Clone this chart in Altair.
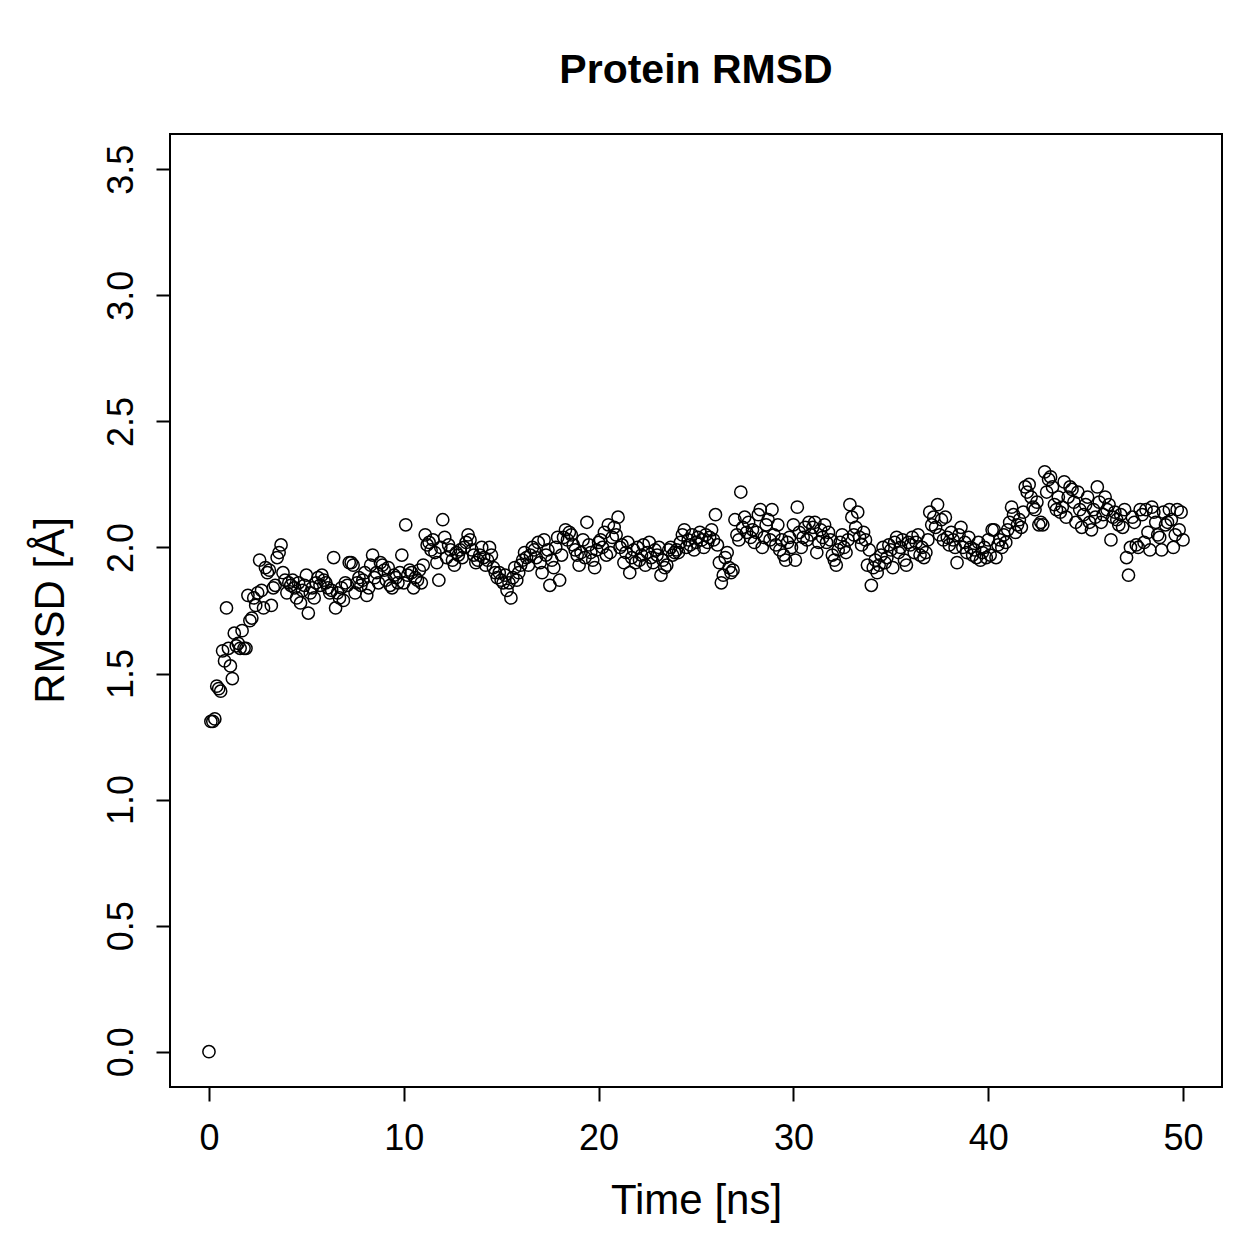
import altair as alt
import pandas as pd

# RMSD of the protein backbone, one frame every 0.1 ns (10 frames per ns block)
rmsd_blocks = [
    [0.00, 1.31, 1.31, 1.32, 1.45, 1.44, 1.43, 1.59, 1.55, 1.76],  # 0 ns
    [1.60, 1.53, 1.48, 1.66, 1.61, 1.62, 1.60, 1.67, 1.60, 1.60],
    [1.81, 1.71, 1.72, 1.80, 1.77, 1.82, 1.95, 1.83, 1.76, 1.92],
    [1.90, 1.91, 1.77, 1.84, 1.85, 1.96, 1.98, 2.01, 1.90, 1.87],
    [1.82, 1.86, 1.85, 1.87, 1.84, 1.80, 1.86, 1.78, 1.83, 1.85],
    [1.89, 1.74, 1.82, 1.84, 1.80, 1.86, 1.88, 1.85, 1.89, 1.87],  # 5 ns
    [1.86, 1.84, 1.82, 1.83, 1.96, 1.76, 1.82, 1.80, 1.84, 1.79],
    [1.86, 1.85, 1.94, 1.94, 1.93, 1.82, 1.86, 1.88, 1.85, 1.87],
    [1.90, 1.81, 1.84, 1.93, 1.97, 1.88, 1.90, 1.86, 1.94, 1.93],
    [1.91, 1.87, 1.92, 1.85, 1.84, 1.89, 1.88, 1.86, 1.90, 1.97],
    [1.86, 2.09, 1.89, 1.91, 1.90, 1.84, 1.88, 1.87, 1.91, 1.86],  # 10 ns
    [1.93, 2.05, 2.01, 2.02, 1.99, 2.03, 1.98, 1.94, 1.87, 2.00],
    [2.11, 2.04, 1.96, 2.01, 1.99, 1.95, 1.93, 1.98, 1.97, 1.99],
    [1.96, 2.00, 2.02, 2.05, 2.03, 1.99, 1.97, 1.94, 1.95, 1.97],
    [2.00, 1.96, 1.93, 1.95, 2.00, 1.97, 1.92, 1.90, 1.88, 1.90],
    [1.87, 1.86, 1.89, 1.83, 1.86, 1.80, 1.88, 1.92, 1.87, 1.90],  # 15 ns
    [1.93, 1.95, 1.98, 1.96, 1.93, 1.97, 2.00, 1.99, 1.96, 2.02],
    [1.94, 1.90, 2.03, 1.97, 1.99, 1.85, 1.95, 1.92, 2.00, 2.04],
    [1.87, 1.97, 2.04, 2.07, 2.03, 2.06, 2.05, 2.01, 1.99, 1.97],
    [1.93, 1.98, 2.03, 1.96, 2.10, 2.01, 1.98, 1.95, 1.92, 1.99],
    [2.02, 2.03, 2.00, 2.06, 1.97, 2.09, 1.98, 2.04, 2.08, 2.05],  # 20 ns
    [2.12, 2.00, 2.01, 1.94, 1.98, 2.02, 1.90, 1.96, 1.99, 1.94],
    [2.00, 1.95, 1.97, 2.01, 1.93, 1.98, 2.02, 1.96, 1.94, 1.99],
    [1.97, 2.00, 1.89, 1.95, 1.92, 1.93, 1.99, 2.00, 1.97, 1.98],
    [1.99, 1.98, 2.02, 2.05, 2.07, 2.00, 2.03, 2.01, 2.05, 1.99],
    [2.02, 2.04, 2.06, 2.03, 2.00, 2.05, 2.02, 2.04, 2.07, 2.03],  # 25 ns
    [2.13, 2.01, 1.94, 1.86, 1.89, 1.96, 1.98, 1.92, 1.90, 1.91],
    [2.11, 2.05, 2.03, 2.22, 2.08, 2.12, 2.06, 2.10, 2.04, 2.07],
    [2.02, 2.06, 2.13, 2.15, 2.00, 2.04, 2.09, 2.11, 2.03, 2.15],
    [2.05, 2.01, 2.09, 1.99, 2.03, 1.97, 1.95, 2.02, 2.04, 2.00],
    [2.09, 1.95, 2.16, 2.06, 2.00, 2.04, 2.08, 2.03, 2.10, 2.05],  # 30 ns
    [2.08, 2.10, 1.98, 2.02, 2.07, 2.04, 2.09, 2.02, 2.06, 2.03],
    [1.97, 1.95, 1.93, 1.99, 2.02, 2.05, 2.00, 1.98, 2.03, 2.17],
    [2.12, 2.05, 2.08, 2.14, 2.04, 2.01, 2.06, 2.03, 1.93, 1.99],
    [1.85, 1.92, 1.95, 1.90, 1.93, 1.97, 2.00, 1.94, 1.96, 2.01],
    [1.99, 1.92, 2.02, 2.04, 1.98, 2.00, 2.03, 1.95, 1.93, 2.02],  # 35 ns
    [2.01, 2.04, 1.98, 2.02, 2.05, 1.97, 2.00, 1.96, 1.98, 2.03],
    [2.14, 2.09, 2.12, 2.08, 2.17, 2.05, 2.11, 2.03, 2.12, 2.04],
    [2.01, 2.06, 2.03, 2.00, 1.94, 2.05, 2.08, 2.00, 2.02, 1.98],
    [2.04, 2.00, 1.97, 1.99, 1.96, 2.02, 1.95, 1.98, 2.00, 1.96],
    [2.03, 1.97, 2.07, 2.07, 1.96, 2.01, 2.03, 2.00, 2.05, 2.02],  # 40 ns
    [2.07, 2.10, 2.16, 2.13, 2.06, 2.09, 2.11, 2.08, 2.14, 2.24],
    [2.22, 2.25, 2.20, 2.16, 2.15, 2.18, 2.09, 2.10, 2.09, 2.30],
    [2.22, 2.27, 2.28, 2.24, 2.17, 2.15, 2.20, 2.14, 2.16, 2.26],
    [2.12, 2.20, 2.24, 2.23, 2.18, 2.10, 2.22, 2.15, 2.08, 2.13],
    [2.17, 2.20, 2.10, 2.07, 2.15, 2.12, 2.24, 2.18, 2.10, 2.13],  # 45 ns
    [2.20, 2.15, 2.17, 2.03, 2.12, 2.14, 2.11, 2.09, 2.13, 2.08],
    [2.15, 1.96, 1.89, 2.00, 2.12, 2.10, 2.01, 2.00, 2.15, 2.13],
    [2.02, 2.15, 2.06, 1.99, 2.16, 2.14, 2.10, 2.05, 2.04, 1.99],
    [2.14, 2.09, 2.10, 2.15, 2.11, 2.00, 2.05, 2.15, 2.07, 2.14],
    [2.03],                                                        # 50 ns
]
frames_per_ns = 10

x_ticks = [0, 10, 20, 30, 40, 50]
y_ticks = [0.0, 0.5, 1.0, 1.5, 2.0, 2.5, 3.0, 3.5]

rmsd = [v for block in rmsd_blocks for v in block]
time_ns = [i / frames_per_ns for i in range(len(rmsd))]
df = pd.DataFrame({"time": time_ns, "rmsd": rmsd})

FONT = "Liberation Sans"

points = alt.Chart(df).mark_point(
    shape="circle", filled=False, color="black", size=150, strokeWidth=1.5, opacity=1
).encode(
    x=alt.X(
        "time:Q",
        scale=alt.Scale(domain=[-2, 52], nice=False, zero=False),
        axis=alt.Axis(
            values=x_ticks, title="Time [ns]", format="d", labelPadding=20,
            titleX=526, titleY=113, titleBaseline="middle",
        ),
    ),
    y=alt.Y(
        "rmsd:Q",
        scale=alt.Scale(domain=[-0.14, 3.64], nice=False, zero=False),
        axis=alt.Axis(
            values=y_ticks, title="RMSD [Å]", format=".1f", labelPadding=16,
            labelAngle=270, labelAlign="center", labelBaseline="bottom",
            titleX=-120, titleY=476, titleAngle=270, titleBaseline="middle",
        ),
    ),
)

chart = points.properties(
    width=1052,
    height=953,
    background="white",
    title=alt.TitleParams(
        "Protein RMSD", fontSize=41, fontWeight="bold", font=FONT,
        color="black", anchor="middle", offset=42,
    ),
    autosize=alt.AutoSizeParams(type="none"),
    padding={"left": 170, "top": 134, "right": 37, "bottom": 172},
).configure_view(
    stroke="black", strokeWidth=2
).configure_axis(
    domain=False, grid=False,
    tickColor="black", tickSize=14, tickWidth=2,
    labelFont=FONT, labelFontSize=36, labelColor="black",
    titleFont=FONT, titleFontSize=42, titleColor="black", titleFontWeight="normal",
    labelOverlap=False, labelFlush=False,
)

chart.save("out.html", embed_options={"renderer": "svg", "actions": False})
